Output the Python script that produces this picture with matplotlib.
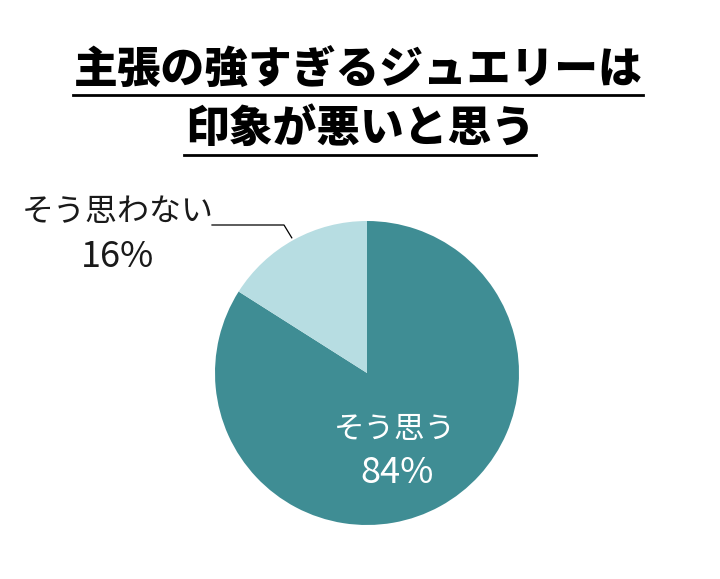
import numpy as np
import matplotlib
matplotlib.use("Agg")
import matplotlib.pyplot as plt

plt.rcParams['font.family'] = ['Noto Sans CJK JP', 'DejaVu Sans']

# データ
labels = ["そう思う", "そう思わない"]
values = [84, 16]
colors = ["#3f8d94", "#b7dde2"]
title_lines = ["主張の強すぎるジュエリーは", "印象が悪いと思う"]

W, H = 720, 579
fig = plt.figure(figsize=(W / 100, H / 100), dpi=100)
ax = fig.add_axes([0, 0, 1, 1])

cx, cy, r = 367, H - 373, 152
wedges, _ = ax.pie(values, colors=colors, startangle=90, counterclock=False,
                   radius=r, center=(cx, cy), frame=True,
                   wedgeprops=dict(linewidth=0))
ax.set_xlim(0, W)
ax.set_ylim(0, H)
ax.axis('off')

# タイトル(下線付き)
renderer = fig.canvas.get_renderer()
for line, tx, ty, uy in zip(title_lines, [358, 360], [H - 70, H - 128],
                            [H - 95, H - 155]):
    t = ax.text(tx, ty, line, ha='center', va='center',
                fontsize=31.5, fontweight='black', color='black')
    bb = t.get_window_extent(renderer)
    ax.plot([bb.x0 - 1, bb.x1 + 1], [uy, uy], color='black', lw=2)

# 内側ラベル
ax.text(395, H - 430, labels[0], ha='center', va='center',
        fontsize=22, color='white')
ax.text(397, H - 473, f"{values[0]}%", ha='center', va='center',
        fontsize=26, color='white')

# 外側ラベルと引き出し線
ang = np.deg2rad((wedges[1].theta1 + wedges[1].theta2) / 2)
ex, ey = cx + r * np.cos(ang), cy + r * np.sin(ang)
ax.plot([212, 284, ex - 2], [H - 225, H - 225, ey + 2], color='black', lw=0.9)
ax.text(118, H - 212, labels[1], ha='center', va='center',
        fontsize=23, color='#1a1a1a')
ax.text(118, H - 257, f"{values[1]}%", ha='center', va='center',
        fontsize=26, color='#1a1a1a')

fig.savefig("out.png", dpi=100)
